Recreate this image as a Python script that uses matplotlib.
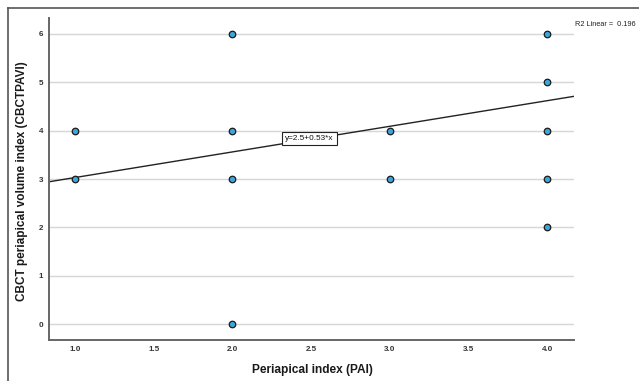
import numpy as np
import matplotlib.pyplot as plt
from matplotlib.lines import Line2D

plt.rcParams['font.family'] = ['Liberation Sans', 'DejaVu Sans']

# Data
pai = [1, 1, 2, 2, 2, 2, 3, 3, 4, 4, 4, 4, 4]
cbctpavi = [3, 4, 0, 3, 4, 6, 3, 4, 2, 3, 4, 5, 6]
intercept = 2.5
slope = 0.53
r2_text = "R2 Linear =  0.196"
x_ticks = [1.0, 1.5, 2.0, 2.5, 3.0, 3.5, 4.0]
y_ticks = [0, 1, 2, 3, 4, 5, 6]

W, H = 639, 381
fig = plt.figure(figsize=(W / 100, H / 100), dpi=100)
ax = fig.add_axes([49 / W, 1 - 340 / H, (574 - 49) / W, (340 - 18) / H])

xlim = (0.835, 4.17)
ylim = (-0.33, 6.33)
ax.set_xlim(xlim)
ax.set_ylim(ylim)

# horizontal gridlines
for yv in y_ticks:
    ax.axhline(yv, color='#d6d6d6', lw=1.0, zorder=0)

# fit line
xs = np.array(xlim)
ax.plot(xs, intercept + slope * xs, color='#222222', lw=1.0, zorder=2)

# points
ax.scatter(pai, cbctpavi, s=22, facecolor='#3aa6dc', edgecolor='#1a1a1a',
           linewidth=0.9, zorder=3)

# equation label
ax.text(2.335, 3.86, "y=2.5+0.53*x", fontsize=5.9, ha='left',
        va='center_baseline', color='#111111', zorder=4,
        bbox=dict(boxstyle='square,pad=0.4', facecolor='white',
                  edgecolor='#222222', linewidth=0.8))

ax.set_xticks(x_ticks)
ax.set_xticklabels([f"{v:.1f}" for v in x_ticks])
ax.set_yticks(y_ticks)
ax.tick_params(length=0, labelsize=5.8, labelcolor='#333333')
ax.tick_params(axis='x', pad=4)
ax.tick_params(axis='y', pad=4)
for lbl in ax.get_xticklabels() + ax.get_yticklabels():
    lbl.set_fontweight('bold')

for s in ['top', 'right']:
    ax.spines[s].set_visible(False)
for s in ['left', 'bottom']:
    ax.spines[s].set_color('#666666')
    ax.spines[s].set_linewidth(1.4)

fig.text(312 / W, 1 - 370 / H, "Periapical index (PAI)", fontsize=8.6,
         fontweight='bold', color='#1a1a1a', ha='center', va='center')
fig.text(22 / W, 1 - 181 / H, "CBCT periapical volume index (CBCTPAVI)",
         fontsize=8.5, fontweight='bold', color='#1a1a1a', ha='center',
         va='center', rotation=90)

fig.text(575 / W, 1 - 25 / H, r2_text, fontsize=5.3, ha='left', va='center',
         color='#222222')

# outer frame (left and top edges)
fig.add_artist(Line2D([8 / W, 8 / W], [0, 1 - 8 / H], transform=fig.transFigure,
                      color='#555555', lw=1.2))
fig.add_artist(Line2D([8 / W, 1], [1 - 8 / H, 1 - 8 / H], transform=fig.transFigure,
                      color='#555555', lw=1.2))

fig.savefig("out.png", dpi=100)
